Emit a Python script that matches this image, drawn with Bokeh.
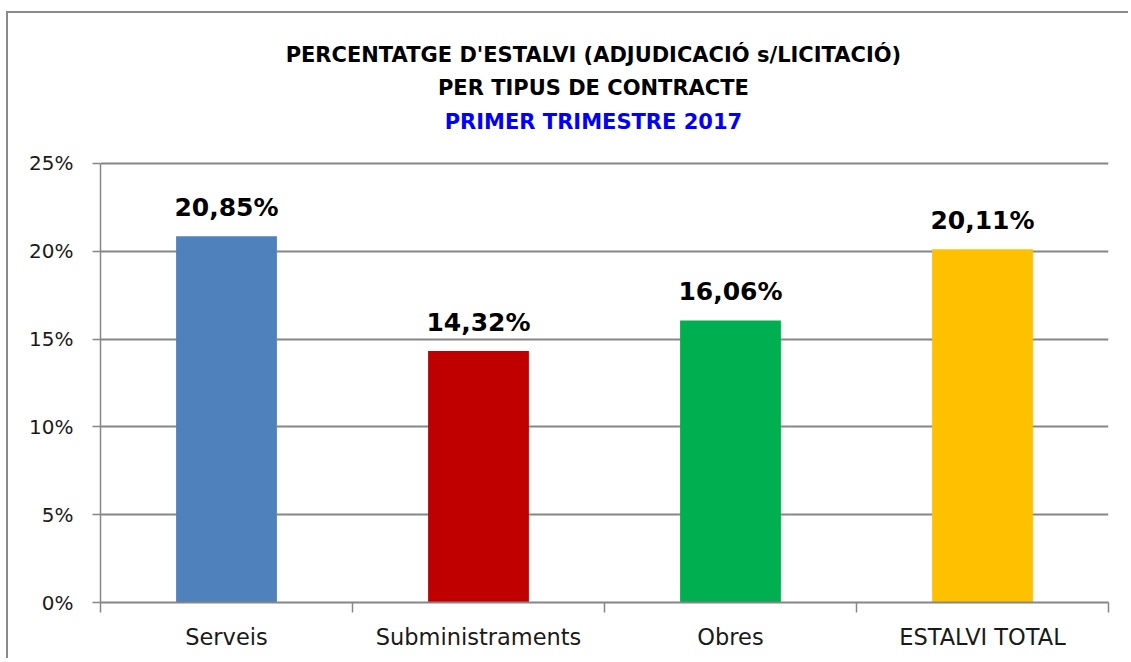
from bokeh.plotting import figure
from bokeh.models import (ColumnDataSource, Range1d, LinearAxis, FixedTicker,
                          LabelSet, Label)
from bokeh.core.properties import value
from bokeh.embed import file_html
from bokeh.resources import INLINE

categories = ["Serveis", "Subministraments", "Obres", "ESTALVI TOTAL"]
values = [20.85, 14.32, 16.06, 20.11]
colors = ["#4F81BD", "#C00000", "#00B050", "#FFC000"]
y_ticks = [0, 5, 10, 15, 20, 25]
y_tick_labels = ["0%", "5%", "10%", "15%", "20%", "25%"]
title_lines = ["PERCENTATGE D'ESTALVI (ADJUDICACIÓ s/LICITACIÓ)", "PER TIPUS DE CONTRACTE",
               "PRIMER TRIMESTRE 2017"]
title_colors = ["#000000", "#000000", "#0000FF"]

n = len(categories)
xpos = [i + 0.5 for i in range(n)]
bounds = list(range(n + 1))
labels = [f"{v:.2f}%".replace(".", ",") for v in values]
src = ColumnDataSource(dict(x=xpos, val=values, col=colors, lab=labels))

GRAY = "#868686"
FONT = "DejaVu Sans"

# frame spans the title area too; the axis itself is bounded to 0..25
Y_TOP = 33.54
p = figure(width=1122, height=647, x_range=Range1d(0, n), y_range=Range1d(0, Y_TOP),
           output_backend="svg", toolbar_location=None, title=None,
           min_border_left=92, min_border_right=22, min_border_top=0, min_border_bottom=58,
           x_axis_location=None)
p.outline_line_color = None
p.background_fill_color = "white"
p.border_fill_color = "white"
p.styles = {"margin-left": "6px", "margin-top": "11px",
            "border-left": "2px solid #8a8a8a", "border-top": "2px solid #8a8a8a"}

p.vbar(x="x", top="val", width=0.4, color="col", source=src, line_color=None)

# y axis
p.yaxis.ticker = FixedTicker(ticks=y_ticks)
p.yaxis.bounds = (0, 25)
p.yaxis.major_label_overrides = {t: l for t, l in zip(y_ticks, y_tick_labels)}
p.yaxis.axis_line_color = GRAY
p.yaxis.axis_line_width = 1.5
p.yaxis.major_tick_line_color = GRAY
p.yaxis.major_tick_line_width = 1.5
p.yaxis.major_tick_out = 8
p.yaxis.major_tick_in = 0
p.yaxis.minor_tick_line_color = None
p.yaxis.major_label_standoff = 19
p.yaxis.major_label_text_font = FONT
p.yaxis.major_label_text_font_size = "20px"
p.yaxis.major_label_text_color = "#1a1a1a"

p.ygrid.ticker = FixedTicker(ticks=y_ticks)
p.ygrid.grid_line_color = GRAY
p.ygrid.grid_line_width = 2
p.xgrid.grid_line_color = None

# x axis: category names at centres, boundary tick marks as minor ticks
ax = LinearAxis(ticker=FixedTicker(ticks=xpos, minor_ticks=bounds))
ax.major_label_overrides = {x: c for x, c in zip(xpos, categories)}
ax.axis_line_color = GRAY
ax.axis_line_width = 2
ax.major_tick_line_color = None
ax.major_tick_out = 0
ax.major_tick_in = 0
ax.minor_tick_line_color = GRAY
ax.minor_tick_line_width = 1.5
ax.minor_tick_out = 10
ax.minor_tick_in = 0
ax.major_label_standoff = 11
ax.major_label_text_font = FONT
ax.major_label_text_font_size = "22.5px"
ax.major_label_text_color = "#1a1a1a"
p.add_layout(ax, "below")

# value labels
p.add_layout(LabelSet(x="x", y="val", text="lab", source=src, text_align="center",
                      text_baseline="bottom", y_offset=14, text_font=value(FONT),
                      text_font_style="bold", text_font_size="25px", text_color="#000000"))

# title
title_y = [31.15, 29.27, 27.39]
for t, c, y in zip(title_lines, title_colors, title_y):
    p.add_layout(Label(x=1.956, y=y, text=t, text_align="center", text_baseline="middle",
                       text_font=FONT, text_font_style="bold", text_font_size="21px",
                       text_color=c))

open("out.html", "w").write(file_html(p, INLINE))
